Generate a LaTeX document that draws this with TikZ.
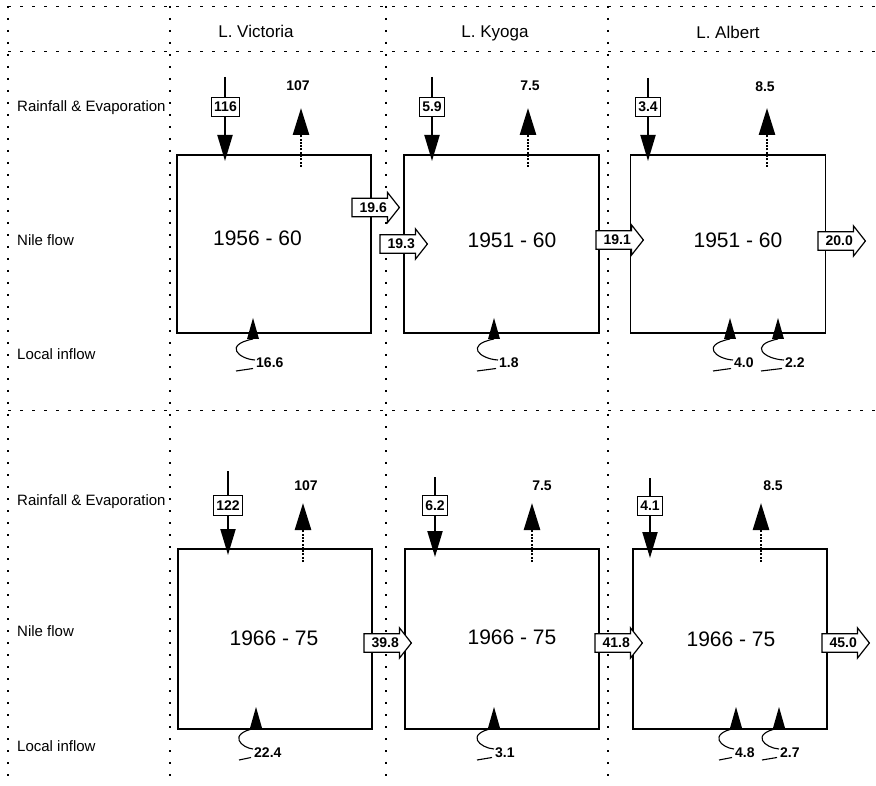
\documentclass[tikz,border=0pt]{standalone}
\usepackage{fontspec}
\setmainfont{Liberation Sans}
\usetikzlibrary{arrows.meta,calc}
\pgfdeclarelayer{bg}
\pgfdeclarelayer{mid}
\pgfsetlayers{bg,mid,main}
\newcommand\flowarr[4]{%
  \node[flowtxt, anchor=west] (#1) at (#2,#3) {\hspace*{7pt}#4};
  \begin{pgfonlayer}{mid}
  \draw[flowarrow] (#1.north west) -- (#1.north east) -- ([yshift=6pt]#1.north east)
     -- ([xshift=12pt]#1.east) -- ([yshift=-6pt]#1.south east) -- (#1.south east)
     -- (#1.south west) -- cycle;
  \end{pgfonlayer}}
\newcommand\inflow[5]{%
  \fill ({#2-6},#3) -- (#2,{#3-21}) -- ({#2+6},#3) -- cycle;
  \draw[squig] (#2,#3) .. controls ({#2-30},{#3+6}) and ({#2-14},{#3+20}) .. ({#2+(#5)-1},{#3+21});
  \node[num, anchor=base west] (#1) at ({#2+(#5)},{#3+29}) {#4};
  \draw[squig] ({#2-17},{#3+32}) -- ({#2+(#5)-3},{#3+29.5});}
\begin{document}
\begin{tikzpicture}[x=1pt,y=-1pt,
  grid/.style={line width=0.9pt, dash pattern=on 3pt off 9pt},
  vgrid/.style={line width=1.1pt, dash pattern=on 2pt off 10pt},
  lake/.style={draw, line width=1.4pt, inner sep=0pt},
  hdr/.style={font=\fontsize{17}{19}\selectfont, anchor=base},
  rowlbl/.style={font=\fontsize{15}{17}\selectfont, anchor=base west, inner sep=0pt},
  yearlbl/.style={font=\fontsize{21}{24}\selectfont},
  num/.style={font=\bfseries\fontsize{14}{16}\selectfont, inner sep=0pt},
  rainbox/.style={num, draw, fill=white, line width=1pt, inner xsep=2.5pt, inner ysep=5pt},
  rain/.style={line width=2pt, -{Triangle[length=26pt,width=15pt]}},
  evap/.style={line width=2.6pt, dash pattern=on 2pt off 1.3pt, -{Triangle[length=27pt,width=16pt]}},
  flowtxt/.style={num, minimum width=35pt, minimum height=18pt, inner sep=0pt},
  flowarrow/.style={draw, fill=white, line width=1.2pt, line join=miter},
  squig/.style={line width=1.1pt},
]
\useasboundingbox (0,0) rectangle (876,786);
\begin{pgfonlayer}{bg}
  \foreach \y in {6,51,410} \draw[grid] (8,\y) -- (876,\y);
  \foreach \x in {8,170,386,608} \draw[vgrid] (\x,6) -- (\x,786);
  % lake boxes
  \node[lake, minimum width=194pt, minimum height=178pt] (V1) at (274,244) {};
  \node[lake, minimum width=195pt, minimum height=178pt] (K1) at (501.5,244) {};
  \node[lake, minimum width=195pt, minimum height=178pt] (A1) at (728,244) {};
  \node[lake, minimum width=194pt, minimum height=180pt] (V2) at (275,639) {};
  \node[lake, minimum width=194pt, minimum height=180pt] (K2) at (502,639) {};
  \node[lake, minimum width=194pt, minimum height=180pt] (A2) at (730,639) {};
\end{pgfonlayer}

% headers
\node[hdr] (hV) at (256,38) {L. Victoria};
\node[hdr] (hK) at (495,38) {L. Kyoga};
\node[hdr] (hA) at (728,39) {L. Albert};

% row labels
\node[rowlbl] (r1) at (17,111.5) {Rainfall \& Evaporation};
\node[rowlbl] (n1) at (17,245.5) {Nile flow};
\node[rowlbl] (l1) at (17,359.5) {Local inflow};
\node[rowlbl] (r2) at (17,505) {Rainfall \& Evaporation};
\node[rowlbl] (n2) at (17,636.5) {Nile flow};
\node[rowlbl] (l2) at (17,751.5) {Local inflow};

% year labels
\node[yearlbl] (yV1) at (257.5,238) {1956 - 60};
\node[yearlbl] (yK1) at (512,240) {1951 - 60};
\node[yearlbl] (yA1) at (738,240) {1951 - 60};
\node[yearlbl] (yV2) at (274,638) {1966 - 75};
\node[yearlbl] (yK2) at (512,637) {1966 - 75};
\node[yearlbl] (yA2) at (731,639) {1966 - 75};

% rainfall arrows
\coordinate (rV1s) at (225,77);  \coordinate (rV1t) at (225,161);
\coordinate (rK1s) at (432,77);  \coordinate (rK1t) at (432,161);
\coordinate (rA1s) at (648,78);  \coordinate (rA1t) at (648,161);
\coordinate (rV2s) at (228,471); \coordinate (rV2t) at (228,555);
\coordinate (rK2s) at (435,477); \coordinate (rK2t) at (435,557);
\coordinate (rA2s) at (650,478); \coordinate (rA2t) at (650,558);
\foreach \n in {V1,K1,A1,V2,K2,A2} \draw[rain] (r\n s) -- (r\n t);
\node[rainbox] (bV1) at (225.5,107) {116};
\node[rainbox] (bK1) at (432,107) {5.9};
\node[rainbox] (bA1) at (648,107) {3.4};
\node[rainbox] (bV2) at (228,505.5) {122};
\node[rainbox] (bK2) at (435,505.5) {6.2};
\node[rainbox] (bA2) at (650,506) {4.1};

% evaporation arrows
\coordinate (eV1s) at (301,167); \coordinate (eV1t) at (301,108);
\coordinate (eK1s) at (528,167); \coordinate (eK1t) at (528,108);
\coordinate (eA1s) at (767,167); \coordinate (eA1t) at (767,108);
\coordinate (eV2s) at (303,562); \coordinate (eV2t) at (303,503);
\coordinate (eK2s) at (532,562); \coordinate (eK2t) at (532,503);
\coordinate (eA2s) at (761,562); \coordinate (eA2t) at (761,503);
\foreach \n in {V1,K1,A1,V2,K2,A2} \draw[evap] (e\n s) -- (e\n t);
\node[num] (tV1) at (298,86) {107};
\node[num] (tK1) at (530,86) {7.5};
\node[num] (tA1) at (765,87) {8.5};
\node[num] (tV2) at (306,486) {107};
\node[num] (tK2) at (542,486) {7.5};
\node[num] (tA2) at (773,486) {8.5};

% Nile flow arrows
\flowarr{f1}{352}{207.5}{19.6}
\flowarr{f2}{380}{244}{19.3}
\flowarr{f3}{596}{240}{19.1}
\flowarr{f4}{818}{241}{20.0}
\flowarr{f5}{364}{643}{39.8}
\flowarr{f6}{595}{643}{41.8}
\flowarr{f7}{822}{643}{45.0}

% local inflow
\inflow{iV1}{253}{339}{16.6}{3}
\inflow{iK1}{494}{339}{1.8}{5}
\inflow{iA1}{730}{339}{4.0}{4}
\inflow{iA1b}{778}{339}{2.2}{7}
\inflow{iV2}{256}{728}{22.4}{-2}
\inflow{iK2}{494}{728}{3.1}{1}
\inflow{iA2}{736}{728}{4.8}{-1}
\inflow{iA2b}{779}{728}{2.7}{1}
\end{tikzpicture}
\end{document}
